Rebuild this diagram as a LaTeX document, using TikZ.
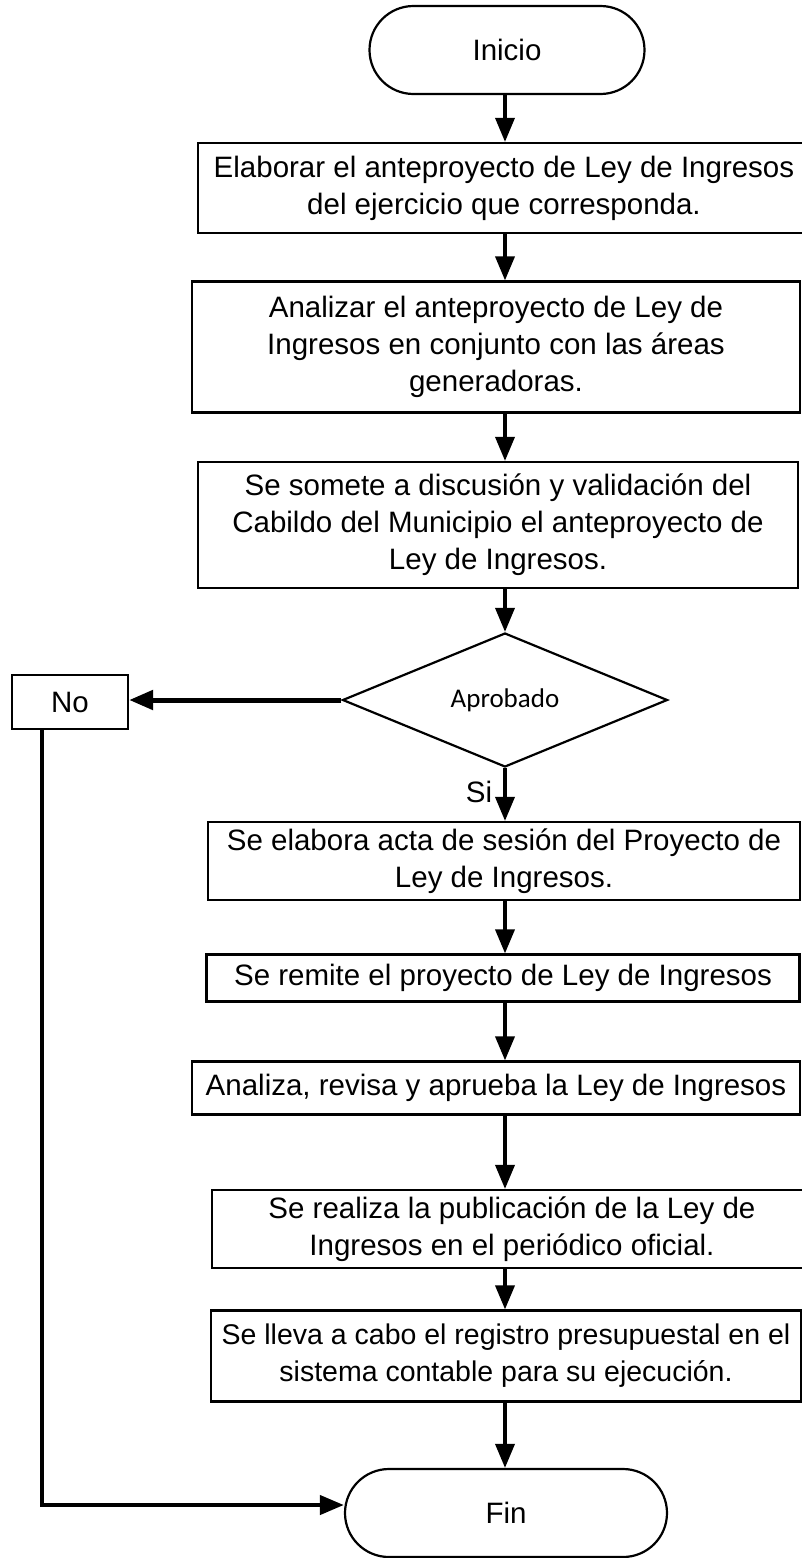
\documentclass[tikz,border=0pt]{standalone}
\usepackage{fontspec}
\setmainfont{Liberation Sans}
\newfontfamily\calibri{Carlito}
\usetikzlibrary{arrows.meta,shapes.geometric,shapes.misc,positioning}

\begin{document}
\begin{tikzpicture}[x=1pt,y=-1pt,
  caja/.style={draw,line width=2.2pt,align=center,inner sep=0pt,font=\fontsize{29.5}{37}\selectfont},
  term/.style={caja,rounded rectangle,minimum height=88pt},
  dec/.style={draw,line width=2.2pt,diamond,inner sep=0pt,minimum width=325pt,minimum height=134pt,font=\calibri\fontsize{27}{32}\selectfont},
  flecha/.style={line width=3.6pt,-{Triangle[length=24pt,width=19pt]}},
  lab/.style={font=\fontsize{29.5}{34}\selectfont,inner sep=3pt}]
  \useasboundingbox (0,0) rectangle (802,1558);
  \clip (0,0) rectangle (802,1558);
  \coordinate (eje) at (505,0);
  % terminales
  \node[term,minimum width=275pt] (ini) at (507,50) {Inicio};
  \node[term,minimum width=322pt] (fin) at (506,1513) {Fin};
  % procesos
  \node[caja,minimum width=612pt,minimum height=90pt] (b1) at (504,188) {Elaborar el anteproyecto de Ley de Ingresos\\del ejercicio que corresponda.};
  \node[caja,minimum width=608pt,minimum height=131pt] (b2) at (496,347) {Analizar el anteproyecto de Ley de\\Ingresos en conjunto con las áreas\\generadoras.};
  \node[caja,minimum width=600pt,minimum height=126pt] (b3) at (498,525) {Se somete a discusión y validación del\\Cabildo del Municipio el anteproyecto de\\Ley de Ingresos.};
  \node[dec] (apr) at (505,700) {Aprobado};
  \node[caja,minimum width=116pt,minimum height=54pt] (no) at (70,702) {No};
  \node[caja,minimum width=592pt,minimum height=78pt] (b4) at (504,861) {Se elabora acta de sesión del Proyecto de\\Ley de Ingresos.};
  \node[caja,minimum width=593pt,minimum height=47pt] (b5) at (503,978) {Se remite el proyecto de Ley de Ingresos};
  \node[caja,minimum width=608pt,minimum height=53pt] (b6) at (496,1088) {Analiza, revisa y aprueba la Ley de Ingresos};
  \node[caja,minimum width=600pt,minimum height=78pt] (b7) at (512,1229) {Se realiza la publicación de la Ley de\\Ingresos en el periódico oficial.};
  \node[caja,minimum width=590pt,minimum height=91pt,font=\fontsize{28.5}{37}\selectfont] (b8) at (506,1356) {Se lleva a cabo el registro presupuestal en el\\sistema contable para su ejecución.};
  % conectores
  \draw[flecha] (eje |- ini.south) -- (eje |- b1.north);
  \draw[flecha] (eje |- b1.south) -- (eje |- b2.north);
  \draw[flecha] (eje |- b2.south) -- (eje |- b3.north);
  \draw[flecha] (eje |- b3.south) -- (apr.north);
  \draw[flecha,line width=5pt] (apr.west) -- (apr.west -| no.east);
  \draw[flecha] (apr.south) -- node[lab,left=8pt,pos=0.45] {Si} (eje |- b4.north);
  \draw[flecha] (eje |- b4.south) -- (eje |- b5.north);
  \draw[flecha] (eje |- b5.south) -- (eje |- b6.north);
  \draw[flecha] (eje |- b6.south) -- (eje |- b7.north);
  \draw[flecha] (eje |- b7.south) -- (eje |- b8.north);
  \draw[flecha] (eje |- b8.south) -- (eje |- fin.north);
  \draw[flecha,line width=4.2pt] ([xshift=-28pt]no.south) |- ([yshift=8pt]fin.west);
\end{tikzpicture}
\end{document}
